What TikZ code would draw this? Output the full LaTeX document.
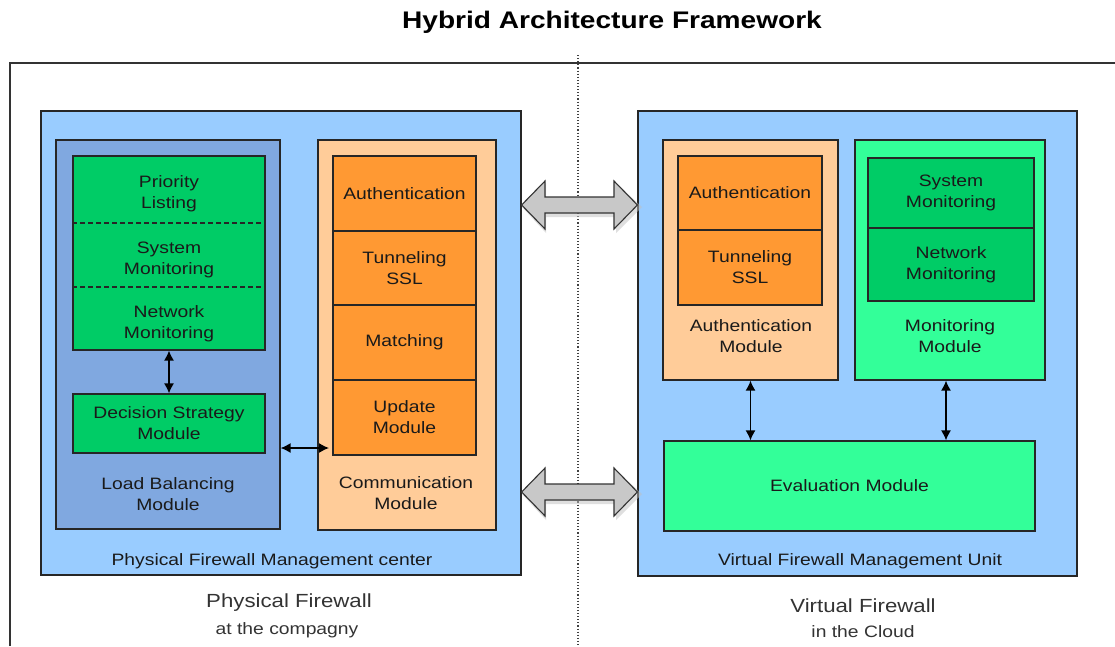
\documentclass[tikz,border=0pt]{standalone}
\usepackage{fontspec}
\setmainfont{Liberation Sans}[FakeStretch=1.17]
\usetikzlibrary{arrows.meta}
\definecolor{panelblue}{HTML}{99CCFF}
\definecolor{lbblue}{HTML}{80A8E0}
\definecolor{dgreen}{HTML}{00CC66}
\definecolor{lgreen}{HTML}{33FF99}
\definecolor{peach}{HTML}{FFCC99}
\definecolor{orng}{HTML}{FF9933}
\definecolor{arrgray}{HTML}{C8C8C8}
\definecolor{txt}{HTML}{1A1A1A}
\begin{document}
\begin{tikzpicture}[x=1pt,y=-1pt,
  blk/.style={draw=black!85, line width=1.2pt, inner sep=0pt, align=center, text=txt,
    font=\fontsize{16.5}{21}\selectfont},
  lbl/.style={inner sep=0pt, align=center, text=txt, font=\fontsize{16.5}{21}\selectfont},
  dbl/.style={line width=1.4pt, {Latex[length=10pt,width=10pt]}-{Latex[length=10pt,width=10pt]}},
  bigarr/.style={draw=black!80, line width=1.1pt, fill=arrgray, line join=miter},
  shad/.style={fill=black!25, draw=none, opacity=0.5},
  sep/.style={black!85, line width=1.1pt, dash pattern=on 5pt off 3pt}
]
\useasboundingbox (0,0) rectangle (1115,646);
% title
\node[inner sep=0pt, font=\fontsize{24}{28}\selectfont\bfseries] (title) at (612,22) {Hybrid Architecture Framework};
% outer frame (extends off the page)
\draw[black!80, line width=1.2pt] (10,646) -- (10,63) -- (1115,63);
% dotted separator
\draw[black!75, line width=1.1pt, dotted] (578,55) -- (578,646);

% ---------------- left side ----------------
\node[blk, fill=panelblue, minimum width=480, minimum height=464] (lpanel) at (281,343) {};
\node[blk, fill=lbblue, minimum width=224, minimum height=389] (lb) at (168,334.5) {};
\node[blk, fill=dgreen, minimum width=192, minimum height=194] (stack) at (169,253) {};
\draw[sep] (stack.west |- 0,223) -- (stack.east |- 0,223);
\draw[sep] (stack.west |- 0,287) -- (stack.east |- 0,287);
\node[lbl] (prio) at (169,193.5) {Priority\\Listing};
\node[lbl] (lsys) at (169,259.5) {System\\Monitoring};
\node[lbl] (lnet) at (169,323.5) {Network\\Monitoring};
\node[blk, fill=dgreen, minimum width=192, minimum height=59] (dec) at (169,423.5) {Decision Strategy\\Module};
\node[lbl] (lbtxt) at (168,494.5) {Load Balancing\\Module};

\node[blk, fill=peach, minimum width=178, minimum height=390] (comm) at (407,335) {};
\node[blk, fill=orng, minimum width=143, minimum height=75] (cauth) at (404.5,193.5) {Authentication};
\node[blk, fill=orng, minimum width=143, minimum height=74] (ctun) at (404.5,268) {Tunneling\\SSL};
\node[blk, fill=orng, minimum width=143, minimum height=75] (cmatch) at (404.5,342.5) {Matching};
\node[blk, fill=orng, minimum width=143, minimum height=75] (cupd) at (404.5,417.5) {Update\\Module};
\node[lbl] (commtxt) at (406,493.5) {Communication\\Module};

\node[lbl] (lpaneltxt) at (272,561) {Physical Firewall Management center};
\node[lbl, text=black!80, font=\fontsize{19}{23}\selectfont] (pf) at (289,603) {Physical Firewall};
\node[lbl, text=black!80] (pf2) at (287,630) {at the compagny};

\draw[dbl] (stack.south) -- (dec.north);
\coordinate (cin) at (329,448);
\draw[dbl] (lb.east |- cin) -- (cin);

% ---------------- right side ----------------
\node[blk, fill=panelblue, minimum width=439, minimum height=465] (rpanel) at (857.5,343.5) {};
\node[blk, fill=peach, minimum width=175, minimum height=240] (authmod) at (750.5,260) {};
\node[blk, fill=orng, minimum width=144, minimum height=74] (rauth) at (750,193) {Authentication};
\node[blk, fill=orng, minimum width=144, minimum height=75] (rtun) at (750,267.5) {Tunneling\\SSL};
\node[lbl] (authmodtxt) at (751,336) {Authentication\\Module};

\node[blk, fill=lgreen, minimum width=190, minimum height=240] (monmod) at (950,260) {};
\node[blk, fill=dgreen, minimum width=166, minimum height=70] (rsys) at (951,193) {System\\Monitoring};
\node[blk, fill=dgreen, minimum width=166, minimum height=73] (rnet) at (951,264.5) {Network\\Monitoring};
\node[lbl] (monmodtxt) at (950,336) {Monitoring\\Module};

\node[blk, fill=lgreen, minimum width=371, minimum height=90] (eval) at (849.5,486) {Evaluation Module};
\node[lbl] (rpaneltxt) at (860,561) {Virtual Firewall Management Unit};
\node[lbl, text=black!80, font=\fontsize{19}{23}\selectfont] (vf) at (863,606) {Virtual Firewall};
\node[lbl, text=black!80] (vf2) at (863,632) {in the Cloud};

\draw[dbl] (authmod.south) -- (authmod.south |- eval.north);
\draw[dbl] ([xshift=-4pt]monmod.south) -- ([xshift=-4pt]monmod.south |- eval.north);

% ---------------- big double arrows ----------------
\foreach \cy/\nm in {205/up, 492/low}{
  \fill[shad] (522,\cy+2) -- (546,\cy-22) -- (546,\cy-6) -- (616,\cy-6) -- (616,\cy-22) -- (642,\cy+2)
     -- (616,\cy+28) -- (616,\cy+12) -- (546,\cy+12) -- (546,\cy+28) -- cycle;
  \draw[bigarr] (lpanel.east |- 0,\cy) -- (545,\cy-24) -- (545,\cy-8) -- (614,\cy-8) -- (614,\cy-24)
     -- (rpanel.west |- 0,\cy) -- (614,\cy+24) -- (614,\cy+8) -- (545,\cy+8) -- (545,\cy+24) -- cycle;
}
\end{tikzpicture}
\end{document}
